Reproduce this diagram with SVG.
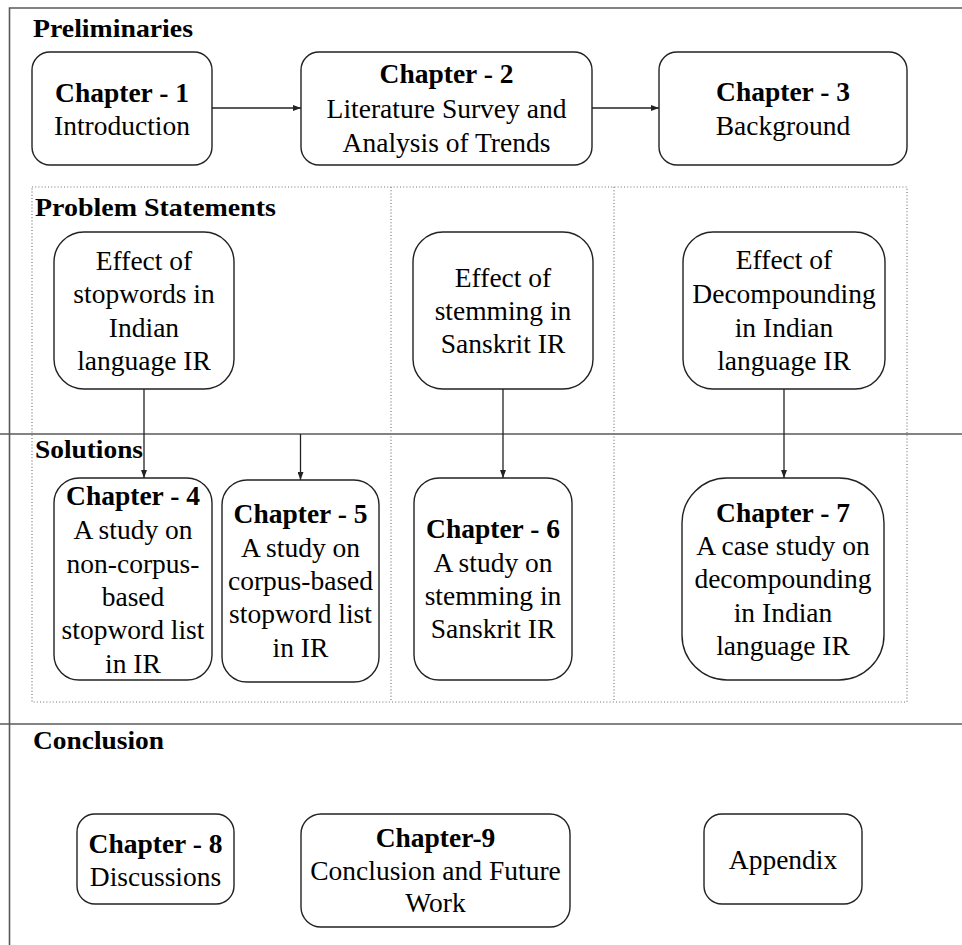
<svg xmlns="http://www.w3.org/2000/svg" width="962" height="945" viewBox="0 0 962 945">
<style>
.frame{stroke:#5a5a5a;stroke-width:1.6;fill:none}
.dot{stroke:#777;stroke-width:1.2;fill:none;stroke-dasharray:1 2.2}
.box{fill:#fff;stroke:#222;stroke-width:1.4}
.sec{font-family:'Liberation Serif','DejaVu Serif',serif;font-weight:bold;font-size:24.5px;fill:#000}
.t{font-family:'Liberation Serif','DejaVu Serif',serif;font-size:27.5px;fill:#000;text-anchor:middle}
.b{font-weight:bold}
.conn{stroke:#222;stroke-width:1.3;fill:none;marker-end:url(#ah)}
</style>
<defs>
<marker id="ah" markerWidth="8" markerHeight="6" refX="8" refY="3" orient="auto" markerUnits="userSpaceOnUse">
<path d="M0,0 L8,3 L0,6 z" fill="#222"/>
</marker>
</defs>
<rect width="962" height="945" fill="#fff"/>
<g id="frame">
<path class="frame" d="M9.5,945 V8 H962"/>
<path class="frame" d="M0,434 H962"/>
<path class="frame" d="M0,724 H962"/>
<rect class="dot" x="32" y="187" width="875" height="515"/>
<path class="dot" d="M391,187 V702"/>
<path class="dot" d="M614,187 V702"/>
</g>
<g id="labels" font-family="Liberation Serif, serif">
<text class="sec" x="33" y="37" textLength="160" lengthAdjust="spacingAndGlyphs">Preliminaries</text>
<text class="sec" x="35" y="216" textLength="241" lengthAdjust="spacingAndGlyphs">Problem Statements</text>
<text class="sec" x="35" y="458" textLength="108" lengthAdjust="spacingAndGlyphs">Solutions</text>
<text class="sec" x="33" y="749" textLength="131" lengthAdjust="spacingAndGlyphs">Conclusion</text>
</g>
<g id="connectors">
<path class="conn" d="M212,108 H301"/>
<path class="conn" d="M592,108 H659"/>
<path class="conn" d="M144,389 V478"/>
<path class="conn" d="M300.5,434 V480"/>
<path class="conn" d="M503,389 V478"/>
<path class="conn" d="M784,389 V478"/>
</g>
<g id="ch1">
<rect class="box" x="32" y="52" width="180" height="113" rx="18"/>
<text class="t b" x="122" y="102">Chapter - 1</text>
<text class="t" x="122" y="135">Introduction</text>
</g>
<g id="ch2">
<rect class="box" x="301" y="52" width="291" height="113" rx="18"/>
<text class="t b" x="446.5" y="83">Chapter - 2</text>
<text class="t" x="446.5" y="118">Literature Survey and</text>
<text class="t" x="446.5" y="152">Analysis of Trends</text>
</g>
<g id="ch3">
<rect class="box" x="659" y="52" width="248" height="113" rx="18"/>
<text class="t b" x="783" y="101">Chapter - 3</text>
<text class="t" x="783" y="135">Background</text>
</g>
<g id="ps1">
<rect class="box" x="54" y="232" width="180" height="157" rx="30"/>
<text class="t" x="144" y="270">Effect of</text>
<text class="t" x="144" y="303">stopwords in</text>
<text class="t" x="144" y="337">Indian</text>
<text class="t" x="144" y="370">language IR</text>
</g>
<g id="ps2">
<rect class="box" x="413" y="232" width="180" height="157" rx="30"/>
<text class="t" x="503" y="287">Effect of</text>
<text class="t" x="503" y="320">stemming in</text>
<text class="t" x="503" y="353">Sanskrit IR</text>
</g>
<g id="ps3">
<rect class="box" x="683" y="232" width="202" height="157" rx="30"/>
<text class="t" x="784" y="269">Effect of</text>
<text class="t" x="784" y="303">Decompounding</text>
<text class="t" x="784" y="337">in Indian</text>
<text class="t" x="784" y="370">language IR</text>
</g>
<g id="ch4">
<rect class="box" x="54" y="478" width="158" height="202" rx="25"/>
<text class="t b" x="133" y="505">Chapter - 4</text>
<text class="t" x="133" y="539">A study on</text>
<text class="t" x="133" y="573">non-corpus-</text>
<text class="t" x="133" y="606">based</text>
<text class="t" x="133" y="639">stopword list</text>
<text class="t" x="133" y="673">in IR</text>
</g>
<g id="ch5">
<rect class="box" x="222" y="480" width="157" height="202" rx="25"/>
<text class="t b" x="300.5" y="523">Chapter - 5</text>
<text class="t" x="300.5" y="557">A study on</text>
<text class="t" x="300.5" y="590">corpus-based</text>
<text class="t" x="300.5" y="623">stopword list</text>
<text class="t" x="300.5" y="657">in IR</text>
</g>
<g id="ch6">
<rect class="box" x="414" y="478" width="158" height="202" rx="25"/>
<text class="t b" x="493" y="538">Chapter - 6</text>
<text class="t" x="493" y="572">A study on</text>
<text class="t" x="493" y="605">stemming in</text>
<text class="t" x="493" y="638">Sanskrit IR</text>
</g>
<g id="ch7">
<rect class="box" x="682" y="478" width="202" height="202" rx="45"/>
<text class="t b" x="783" y="522">Chapter - 7</text>
<text class="t" x="783" y="555">A case study on</text>
<text class="t" x="783" y="588">decompounding</text>
<text class="t" x="783" y="622">in Indian</text>
<text class="t" x="783" y="655">language IR</text>
</g>
<g id="ch8">
<rect class="box" x="77" y="814" width="157" height="90" rx="18"/>
<text class="t b" x="155.5" y="853">Chapter - 8</text>
<text class="t" x="155.5" y="886">Discussions</text>
</g>
<g id="ch9">
<rect class="box" x="301" y="814" width="269" height="113" rx="20"/>
<text class="t b" x="435.5" y="847">Chapter-9</text>
<text class="t" x="435.5" y="880">Conclusion and Future</text>
<text class="t" x="435.5" y="912">Work</text>
</g>
<g id="appendix">
<rect class="box" x="704" y="814" width="158" height="90" rx="18"/>
<text class="t" x="783" y="869">Appendix</text>
</g>
</svg>
